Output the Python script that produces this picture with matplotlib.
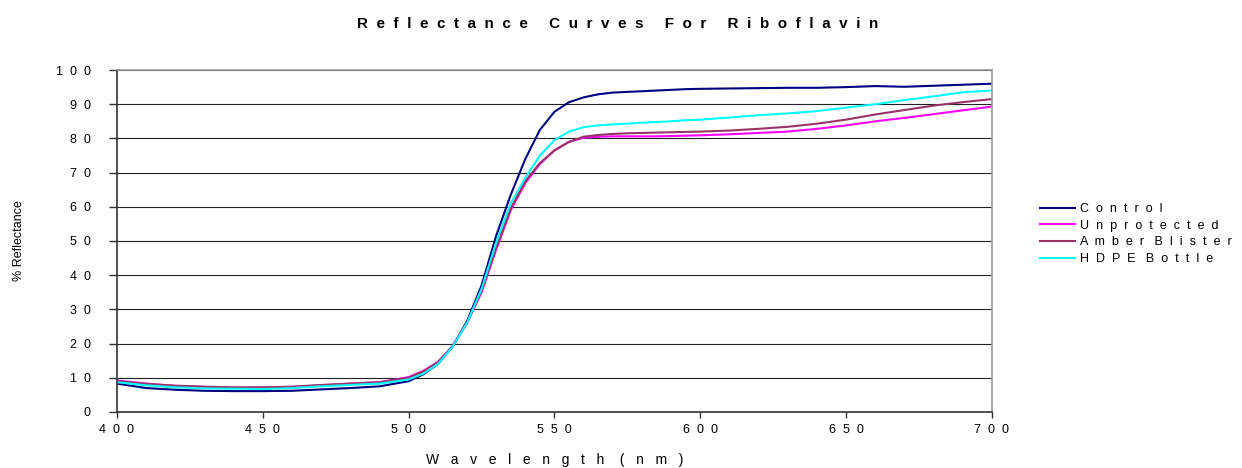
import matplotlib
matplotlib.use("Agg")
import matplotlib.pyplot as plt
from matplotlib.ticker import FuncFormatter

plt.rcParams['font.family'] = ['Liberation Sans', 'DejaVu Sans']

# Wavelength grid (nm): coarser in the flat parts, 5 nm through the edge
wavelength = [400, 410, 420, 430, 440, 450, 460, 470, 480, 490,
              500, 505, 510, 515, 520, 525, 530, 535, 540, 545, 550,
              555, 560, 565, 570, 575, 580, 585, 590, 595, 600,
              610, 620, 630, 640, 650, 660, 670, 680, 690, 700]

control = [8.3, 7.0, 6.5, 6.2, 6.1, 6.1, 6.2, 6.6, 7.0, 7.5,
           9.0, 11.0, 14.0, 19.0, 26.5, 37.0, 51.5, 63.5, 74.0, 82.5, 87.8,
           90.6, 92.0, 92.9, 93.4, 93.6, 93.8, 94.0, 94.2, 94.4, 94.5,
           94.6, 94.7, 94.8, 94.8, 95.0, 95.3, 95.1, 95.4, 95.7, 96.0]

unprotected = [9.2, 8.3, 7.6, 7.3, 7.1, 7.1, 7.3, 7.8, 8.3, 8.7,
               10.2, 12.0, 14.6, 19.2, 26.0, 35.0, 47.5, 59.0, 67.0, 72.5, 76.5,
               79.0, 80.2, 80.5, 80.6, 80.6, 80.6, 80.6, 80.7, 80.8, 80.9,
               81.2, 81.6, 82.0, 82.8, 83.8, 85.0, 86.0, 87.1, 88.2, 89.3]

amber_blister = [9.0, 8.2, 7.7, 7.4, 7.2, 7.2, 7.4, 7.9, 8.3, 8.7,
                 10.0, 11.8, 14.5, 19.2, 26.0, 35.5, 48.0, 59.5, 67.5, 72.8, 76.5,
                 79.0, 80.5, 81.0, 81.3, 81.5, 81.6, 81.7, 81.8, 81.9, 82.0,
                 82.3, 82.8, 83.4, 84.3, 85.5, 87.0, 88.3, 89.6, 90.6, 91.5]

hdpe_bottle = [8.7, 7.8, 7.2, 6.9, 6.8, 6.7, 7.0, 7.5, 7.9, 8.3,
               9.5, 11.2, 14.0, 19.0, 26.0, 36.0, 49.5, 61.0, 68.5, 75.0, 79.5,
               82.0, 83.3, 83.8, 84.1, 84.3, 84.6, 84.8, 85.0, 85.3, 85.5,
               86.1, 86.8, 87.3, 88.0, 89.0, 90.0, 91.2, 92.3, 93.5, 94.0]

series = [
    ("Control", control, "#000080"),
    ("Unprotected", unprotected, "#FF00FF"),
    ("Amber Blister", amber_blister, "#993366"),
    ("HDPE Bottle", hdpe_bottle, "#00FFFF"),
]


def spaced(s, gap=2, word_gap=3):
    # old spreadsheet look: every character spread apart
    return (" " * word_gap).join((" " * gap).join(w) for w in s.split(" "))


fig = plt.figure(figsize=(12.42, 4.68), dpi=100)
ax = fig.add_axes([0.0942, 0.1197, 0.7045, 0.7307])

for name, values, colour in series:
    ax.plot(wavelength, values, color=colour, linewidth=1.5, label=spaced(name))

ax.set_xlim(400, 700)
ax.set_ylim(0, 100)
ax.set_xticks(range(400, 701, 50))
ax.set_yticks(range(0, 101, 10))
ax.xaxis.set_major_formatter(FuncFormatter(lambda v, p: spaced(str(int(v)))))
ax.yaxis.set_major_formatter(FuncFormatter(lambda v, p: spaced(str(int(v)))))
ax.tick_params(axis='both', labelsize=9, direction='out', color='#333333', width=1)
ax.tick_params(axis='x', length=4, pad=5)
ax.tick_params(axis='y', length=6, pad=13)

ax.grid(axis='y', color='#222222', linewidth=0.8)
ax.set_axisbelow(True)
for side in ['left', 'bottom']:
    ax.spines[side].set_color('#333333')
    ax.spines[side].set_linewidth(1.2)
for side in ['top', 'right']:
    ax.spines[side].set_color('#999999')
    ax.spines[side].set_linewidth(1.2)

fig.text(0.4465, 0.003, spaced("Wavelength (nm)", 3, 4), ha='center', va='bottom',
         fontsize=10)
fig.text(0.0153, 0.485, "% Reflectance", rotation=90, ha='center', va='center',
         fontsize=9)
fig.text(0.4976, 0.9487, spaced("Reflectance Curves For Riboflavin", 2, 5),
         ha='center', va='center', fontsize=11, fontweight='bold')

fig.legend(loc='center left', bbox_to_anchor=(0.837, 0.5), frameon=False,
           fontsize=9, handlelength=2.8, handletextpad=0.4, labelspacing=0.38,
           borderaxespad=0, borderpad=0)

fig.savefig("out.png", dpi=100)
